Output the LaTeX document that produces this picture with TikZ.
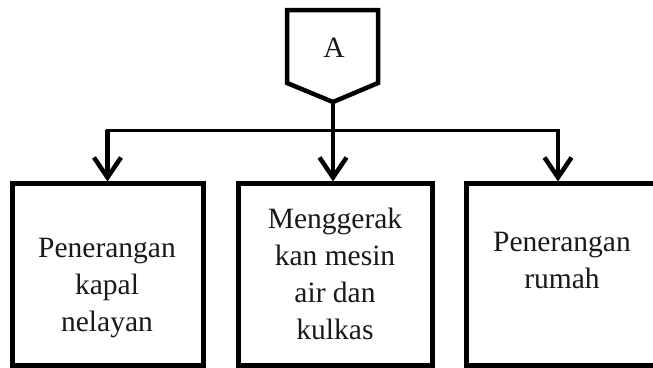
\documentclass[tikz,border=0pt]{standalone}
\usepackage{fontspec}
\setmainfont{Liberation Serif}
\usetikzlibrary{arrows.meta}
\begin{document}
\begin{tikzpicture}[x=1pt,y=-1pt,
  box/.style={draw=black,line width=5pt,rectangle,inner sep=0pt},
  lbl/.style={font=\fontsize{29.5}{37}\selectfont,align=center,text=black!90},
  arr/.style={line width=4.5pt,-{Straight Barb[length=20pt,width=27pt,line width=4.5pt]}},
  barline/.style={line width=3pt,line cap=rect}]
\useasboundingbox (0,0) rectangle (653,367);
\clip (0,0) rectangle (653,367);
% pentagon
\draw[line width=4.5pt,line join=miter] (287,10) -- (378,10) -- (378,83) -- (333,102) -- (287,83) -- cycle;
\node[lbl] (A) at (334,48) {A};
\coordinate (tip) at (333,102);
\coordinate (bar) at (333,130);
% boxes
\node[box,minimum width=191pt,minimum height=182pt] (b1) at (107.5,274) {};
\node[box,minimum width=194pt,minimum height=182pt] (b2) at (335,274) {};
\node[box,minimum width=220pt,minimum height=182pt] (b3) at (576,274) {};
\node[lbl] (t1) at (107,288) {Penerangan\\kapal\\nelayan};
\node[lbl] (t2) at (335,274) {Menggerak\\kan mesin\\air dan\\kulkas};
\node[lbl] (t3) at (562,260) {Penerangan\\rumah};
\coordinate (r) at (558,130);
% connectors
\draw[barline] (b1.north |- bar) -- (r);
\draw[arr,shorten >=-1pt] (tip) -- (tip |- b2.north);
\draw[arr,shorten >=-1pt] (b1.north |- bar) -- (b1.north);
\draw[arr,shorten >=-1pt] (r) -- (r |- b3.north);
\end{tikzpicture}
\end{document}
